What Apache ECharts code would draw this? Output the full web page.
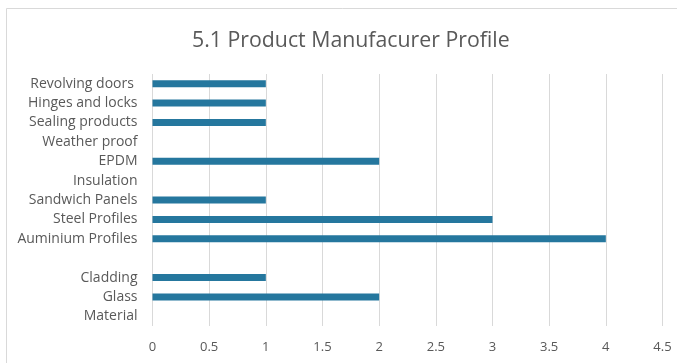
<!DOCTYPE html>
<html>
<head>
<meta charset="utf-8">
<script src="https://cdn.jsdelivr.net/npm/echarts@6/dist/echarts.min.js"></script>
<style>
  html, body { margin: 0; padding: 0; background: #ffffff; }
  #chart { width: 677px; height: 363px; }
</style>
</head>
<body>
<div id="chart"></div>
<script>
// Categories listed bottom to top, as the value axis reads them
const categories = [
  'Material', 'Glass', 'Cladding', '', 'Auminium Profiles', 'Steel Profiles',
  'Sandwich Panels', 'Insulation', 'EPDM', 'Weather proof', 'Sealing products',
  'Hinges and locks', 'Revolving doors '
];
const counts = [0, 2, 1, 0, 4, 3, 1, 0, 2, 0, 1, 1, 1];
const xTicks = { min: 0, max: 4.5, step: 0.5 };

const chart = echarts.init(document.getElementById('chart'), null, { renderer: 'canvas' });
const textColor = '#595959';
const fontFamily = '"Open Sans", "Liberation Sans", sans-serif';

chart.setOption({
  backgroundColor: '#ffffff',
  animation: false,
  title: {
    text: '5.1 Product Manufacurer Profile',
    left: 187,
    top: 25,
    textStyle: { color: textColor, fontSize: 21.3, fontWeight: 'normal', fontFamily: fontFamily }
  },
  graphic: [{
    type: 'rect',
    shape: { x: 6.5, y: 8.5, width: 700, height: 400 },
    style: { fill: 'none', stroke: '#d9d9d9', lineWidth: 1 },
    silent: true
  }],
  grid: { left: 152.5, right: 14.5, top: 74, bottom: 37 },
  xAxis: {
    type: 'value',
    min: xTicks.min,
    max: xTicks.max,
    interval: xTicks.step,
    axisLine: { show: false },
    axisTick: { show: false },
    splitLine: { lineStyle: { color: '#d9d9d9', width: 1 } },
    axisLabel: {
      color: textColor, fontSize: 13, fontFamily: fontFamily, margin: 15,
      formatter: v => String(v)
    }
  },
  yAxis: {
    type: 'category',
    data: categories,
    axisLine: { show: false },
    axisTick: { show: false },
    axisLabel: { color: textColor, fontSize: 14, fontFamily: fontFamily, margin: 15 }
  },
  series: [{
    type: 'bar',
    data: counts,
    barWidth: 7,
    itemStyle: { color: '#25779e' }
  }]
});
</script>
</body>
</html>
